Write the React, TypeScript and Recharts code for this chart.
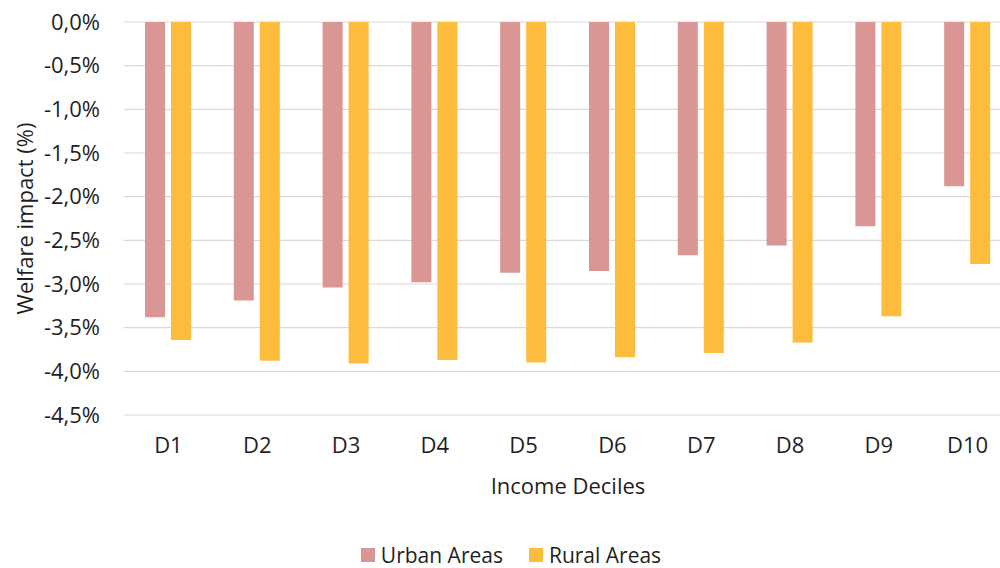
import React from 'react';
import { BarChart, Bar, XAxis, YAxis, CartesianGrid, Legend, Label } from 'recharts';

const categories = ['D1', 'D2', 'D3', 'D4', 'D5', 'D6', 'D7', 'D8', 'D9', 'D10'];
const urbanValues = [-3.38, -3.19, -3.04, -2.98, -2.87, -2.85, -2.67, -2.56, -2.34, -1.88];
const ruralValues = [-3.64, -3.88, -3.91, -3.87, -3.90, -3.84, -3.79, -3.67, -3.37, -2.77];
const yTicks = [0, -0.5, -1, -1.5, -2, -2.5, -3, -3.5, -4, -4.5];

const URBAN = '#DA9694';
const RURAL = '#FEBC3D';
const FONT = '"Open Sans", Lato, sans-serif';
const TEXT = '#1f1f1f';
const FS = 22;

const data = categories.map((c, i) => ({ name: c, urban: urbanValues[i], rural: ruralValues[i] }));

const fmt = (v: number) => v.toFixed(1).replace('.', ',') + '%';

const LegendContent = () => (
  <div style={{ display: 'flex', justifyContent: 'center', alignItems: 'center', height: 28, fontFamily: FONT, fontSize: 21, color: TEXT, paddingLeft: 22 }}>
    <div style={{ display: 'flex', alignItems: 'center', marginRight: 26 }}>
      <span style={{ width: 14, height: 14, background: URBAN, display: 'inline-block', marginRight: 6 }} />
      <span>Urban Areas</span>
    </div>
    <div style={{ display: 'flex', alignItems: 'center' }}>
      <span style={{ width: 14, height: 14, background: RURAL, display: 'inline-block', marginRight: 6 }} />
      <span>Rural Areas</span>
    </div>
  </div>
);

export default function App() {
  return (
    <div style={{ position: 'absolute', left: 0, top: 0, width: 1000, height: 568, overflow: 'hidden', background: '#fff' }}>
      <BarChart
        width={1012}
        height={568}
        data={data}
        margin={{ top: 22, right: 0, left: 0, bottom: 35 }}
        barSize={20}
        barGap={6}
      >
        <CartesianGrid vertical={false} stroke="#D9D9D9" strokeWidth={1.2} />
        <XAxis
          dataKey="name"
          axisLine={false}
          tickLine={false}
          tickSize={0}
          tickMargin={22}
          height={90}
          interval={0}
          tick={{ fontFamily: FONT, fontSize: FS, fill: TEXT }}
        >
          <Label value="Income Deciles" position="insideBottom" offset={11} style={{ fontFamily: FONT, fontSize: FS, fill: TEXT }} />
        </XAxis>
        <YAxis
          type="number"
          domain={[-4.5, 0]}
          ticks={yTicks}
          interval={0}
          tickFormatter={fmt}
          axisLine={false}
          tickLine={false}
          tickSize={0}
          tickMargin={24}
          width={124}
          tick={{ fontFamily: FONT, fontSize: FS, fill: TEXT }}
        >
          <Label value="Welfare impact (%)" angle={-90} position="insideLeft" offset={25} style={{ fontFamily: FONT, fontSize: FS, fill: TEXT, textAnchor: 'middle' }} />
        </YAxis>
        <Legend verticalAlign="bottom" content={<LegendContent />} wrapperStyle={{ top: 541, left: 0, width: 1000, height: 28 }} />
        <Bar dataKey="urban" name="Urban Areas" fill={URBAN} isAnimationActive={false} />
        <Bar dataKey="rural" name="Rural Areas" fill={RURAL} isAnimationActive={false} />
      </BarChart>
    </div>
  );
}
